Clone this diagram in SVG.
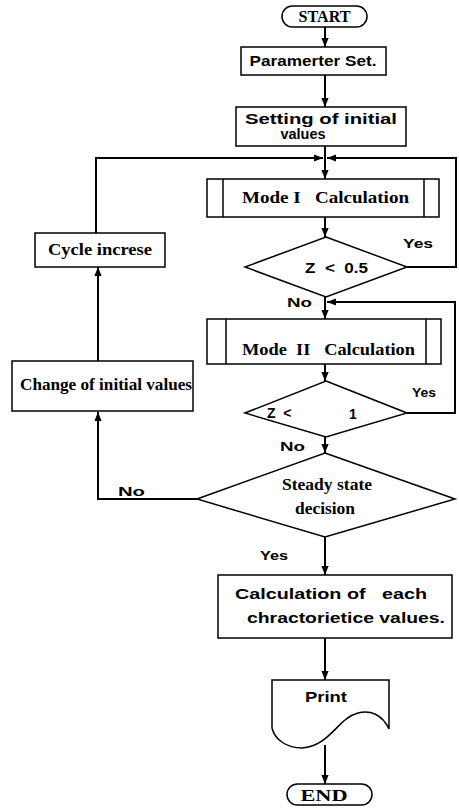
<svg xmlns="http://www.w3.org/2000/svg" width="459" height="809" viewBox="0 0 459 809">
<style>
.s{fill:#fff;stroke:#000;stroke-width:1.5}
.c{fill:none;stroke:#000;stroke-width:2}
.sans{font-family:"Liberation Sans",Arial,sans-serif;font-weight:bold;font-size:14px;fill:#000}
.serif{font-family:"Liberation Serif","Times New Roman",serif;font-weight:bold;font-size:16px;fill:#000}
.lbl{font-family:"Liberation Sans",Arial,sans-serif;font-weight:bold;font-size:13px;fill:#000}
</style>
<defs>
<marker id="a" viewBox="0 0 10 10" refX="10" refY="5" markerWidth="4.5" markerHeight="4.5" orient="auto" markerUnits="strokeWidth">
<path d="M0,1 L10,5 L0,9 Z" fill="#000"/>
</marker>
</defs>
<g id="connectors">
<line class="c" x1="325" y1="27" x2="325" y2="47" marker-end="url(#a)"/>
<line class="c" x1="325" y1="75" x2="325" y2="107" marker-end="url(#a)"/>
<line class="c" x1="325" y1="146" x2="325" y2="179" marker-end="url(#a)"/>
<line class="c" x1="325" y1="217" x2="325" y2="237" marker-end="url(#a)"/>
<polyline class="c" points="407,267 456,267 456,158 327,158" marker-end="url(#a)"/>
<line class="c" x1="325" y1="297" x2="325" y2="319" marker-end="url(#a)"/>
<polyline class="c" points="407,413 455,413 455,302 327,302" marker-end="url(#a)"/>
<line class="c" x1="325" y1="364" x2="325" y2="381" marker-end="url(#a)"/>
<line class="c" x1="325" y1="437" x2="325" y2="453" marker-end="url(#a)"/>
<polyline class="c" points="197,499 98,499 98,412" marker-end="url(#a)"/>
<line class="c" x1="98" y1="361" x2="98" y2="267" marker-end="url(#a)"/>
<polyline class="c" points="96,233 96,158 323,158" marker-end="url(#a)"/>
<line class="c" x1="325" y1="537" x2="325" y2="575" marker-end="url(#a)"/>
<line class="c" x1="325" y1="638" x2="325" y2="680" marker-end="url(#a)"/>
<line class="c" x1="325" y1="745" x2="325" y2="784" marker-end="url(#a)"/>
</g>
<g id="start">
<rect class="s" x="282" y="6" width="85" height="21" rx="10.5"/>
<text class="serif" x="324.5" y="22" text-anchor="middle" textLength="52" lengthAdjust="spacingAndGlyphs">START</text>
</g>
<g id="param">
<rect class="s" x="241" y="47" width="145" height="28"/>
<text class="sans" x="313" y="66" text-anchor="middle" textLength="127" lengthAdjust="spacingAndGlyphs">Paramerter Set.</text>
</g>
<g id="setting">
<rect class="s" x="236" y="107" width="170" height="39"/>
<text class="sans" x="321" y="124" text-anchor="middle" textLength="152" lengthAdjust="spacingAndGlyphs">Setting of initial</text>
<text class="sans" x="303" y="139" text-anchor="middle" textLength="45" lengthAdjust="spacingAndGlyphs">values</text>
</g>
<g id="mode1">
<rect class="s" x="207" y="179" width="232" height="38"/>
<line class="s" x1="223" y1="179" x2="223" y2="217"/>
<line class="s" x1="424" y1="179" x2="424" y2="217"/>
<text class="serif" x="242" y="203" textLength="167" lengthAdjust="spacingAndGlyphs" xml:space="preserve">Mode I   Calculation</text>
</g>
<g id="z05">
<polygon class="s" points="326,237 407,267 326,297 245,267"/>
<text class="sans" x="305" y="273" textLength="63" lengthAdjust="spacingAndGlyphs" xml:space="preserve">Z  &lt;  0.5</text>
</g>
<g id="mode2">
<rect class="s" x="207" y="319" width="234" height="45"/>
<line class="s" x1="226" y1="319" x2="226" y2="364"/>
<line class="s" x1="426" y1="319" x2="426" y2="364"/>
<text class="serif" x="242" y="355" textLength="173" lengthAdjust="spacingAndGlyphs" xml:space="preserve">Mode  II   Calculation</text>
</g>
<g id="z1">
<polygon class="s" points="326,381 407,413 326,437 245,413"/>
<text class="sans" x="267" y="418" xml:space="preserve">Z  &lt;</text>
<text class="sans" x="349" y="419" font-size="11">1</text>
</g>
<g id="steady">
<polygon class="s" points="325,453 455,499 325,537 197,499"/>
<text class="serif" x="327" y="490" text-anchor="middle" textLength="90" lengthAdjust="spacingAndGlyphs">Steady state</text>
<text class="serif" x="325" y="514" text-anchor="middle" textLength="60" lengthAdjust="spacingAndGlyphs">decision</text>
</g>
<g id="change">
<rect class="s" x="12" y="361" width="181" height="50"/>
<text class="serif" x="106" y="390" text-anchor="middle" textLength="172" lengthAdjust="spacingAndGlyphs">Change of initial values</text>
</g>
<g id="cycle">
<rect class="s" x="35" y="233" width="130" height="34"/>
<text class="serif" x="100" y="255" text-anchor="middle" textLength="104" lengthAdjust="spacingAndGlyphs">Cycle increse</text>
</g>
<g id="calc">
<rect class="s" x="218" y="575" width="234" height="63"/>
<text class="sans" x="235" y="599" textLength="192" lengthAdjust="spacingAndGlyphs" xml:space="preserve">Calculation of   each</text>
<text class="sans" x="247" y="623" textLength="198" lengthAdjust="spacingAndGlyphs">chractorietice values.</text>
</g>
<g id="print">
<path class="s" d="M272,680 H389 V729 C382,714 370,710 358,713 C338,718 330,746 302,748 C287,748 275,740 272,728 Z"/>
<text class="sans" x="326" y="702" text-anchor="middle" textLength="42" lengthAdjust="spacingAndGlyphs">Print</text>
</g>
<g id="end">
<rect class="s" x="287" y="784" width="85" height="21" rx="10.5"/>
<text class="serif" x="324" y="801" text-anchor="middle" textLength="47" lengthAdjust="spacingAndGlyphs">END</text>
</g>
<g id="labels">
<text class="lbl" x="403" y="248" textLength="30" lengthAdjust="spacingAndGlyphs">Yes</text>
<text class="lbl" x="287" y="307" textLength="25" lengthAdjust="spacingAndGlyphs">No</text>
<text class="lbl" x="412" y="397" textLength="24" lengthAdjust="spacingAndGlyphs">Yes</text>
<text class="lbl" x="280" y="451" textLength="25" lengthAdjust="spacingAndGlyphs">No</text>
<text class="lbl" x="118" y="496" textLength="27" lengthAdjust="spacingAndGlyphs">No</text>
<text class="lbl" x="260" y="560" textLength="28" lengthAdjust="spacingAndGlyphs">Yes</text>
</g>
</svg>
